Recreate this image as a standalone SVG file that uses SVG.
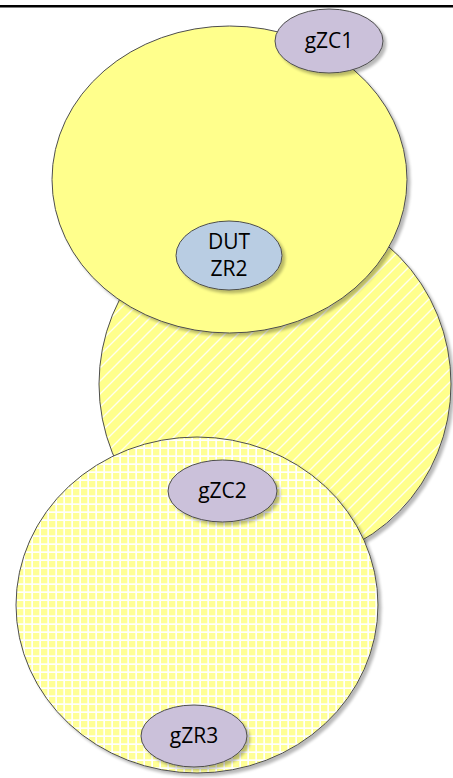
<svg xmlns="http://www.w3.org/2000/svg" width="453" height="778" viewBox="0 0 453 778">
  <defs>
    <style>
      .zone { stroke: #4d4d4d; stroke-width: 1; }
      .node { stroke: #4d4d4d; stroke-width: 1; filter: url(#shadow); }
      .coord { fill: #cbc1da; }
      .dut { fill: #b9cde3; }
      .label { font-family: "Open Sans", "Liberation Sans", sans-serif; font-size: 21px; fill: #000; text-anchor: middle; }
    </style>
    <filter id="shadow" x="-20%" y="-20%" width="150%" height="150%">
      <feGaussianBlur in="SourceAlpha" stdDeviation="1.6"/>
      <feOffset dx="2.5" dy="2.5" result="blur"/>
      <feComponentTransfer><feFuncA type="linear" slope="0.28"/></feComponentTransfer>
      <feMerge><feMergeNode/><feMergeNode in="SourceGraphic"/></feMerge>
    </filter>
    <!-- wide upward diagonal hatch -->
    <pattern id="hatch" width="13" height="13" patternUnits="userSpaceOnUse">
      <rect width="13" height="13" fill="#ffff8c"/>
      <path d="M-3 3 L3 -3 M0 13 L13 0 M10 16 L16 10" stroke="#ffffff" stroke-width="1.4" stroke-opacity="0.85"/>
    </pattern>
    <!-- small grid -->
    <pattern id="grid" width="8" height="8" patternUnits="userSpaceOnUse">
      <rect width="8" height="8" fill="#ffffff"/>
      <rect x="1" y="1" width="6.3" height="6.3" fill="#ffff96"/>
    </pattern>
  </defs>

  <!-- top rule -->
  <line x1="0" y1="6.3" x2="453" y2="6.3" stroke="#000" stroke-width="2.4"/>

  <!-- coverage zones -->
  <g id="zone-zc2">
    <ellipse class="zone" cx="275" cy="384" rx="176" ry="180" fill="url(#hatch)" filter="url(#shadow)"/>
  </g>
  <g id="zone-zc1">
    <ellipse class="zone" cx="229.5" cy="179.5" rx="177.5" ry="153.5" fill="#ffff8c" filter="url(#shadow)"/>
  </g>
  <g id="zone-zr3">
    <ellipse class="zone" cx="197" cy="605" rx="181" ry="168" fill="url(#grid)" filter="url(#shadow)"/>
  </g>

  <!-- devices -->
  <g id="gZC1">
    <ellipse class="node coord" cx="329" cy="41" rx="54" ry="32"/>
    <text class="label" x="329" y="48">gZC1</text>
  </g>
  <g id="DUT-ZR2">
    <ellipse class="node dut" cx="229" cy="255.5" rx="53" ry="34.5"/>
    <text class="label" x="229" y="249">DUT</text>
    <text class="label" x="229" y="276">ZR2</text>
  </g>
  <g id="gZC2">
    <ellipse class="node coord" cx="222.5" cy="491" rx="54.5" ry="31"/>
    <text class="label" x="222.5" y="498">gZC2</text>
  </g>
  <g id="gZR3">
    <ellipse class="node coord" cx="194" cy="736" rx="53" ry="31"/>
    <text class="label" x="194" y="743">gZR3</text>
  </g>

  <g id="connectors"/>
</svg>
